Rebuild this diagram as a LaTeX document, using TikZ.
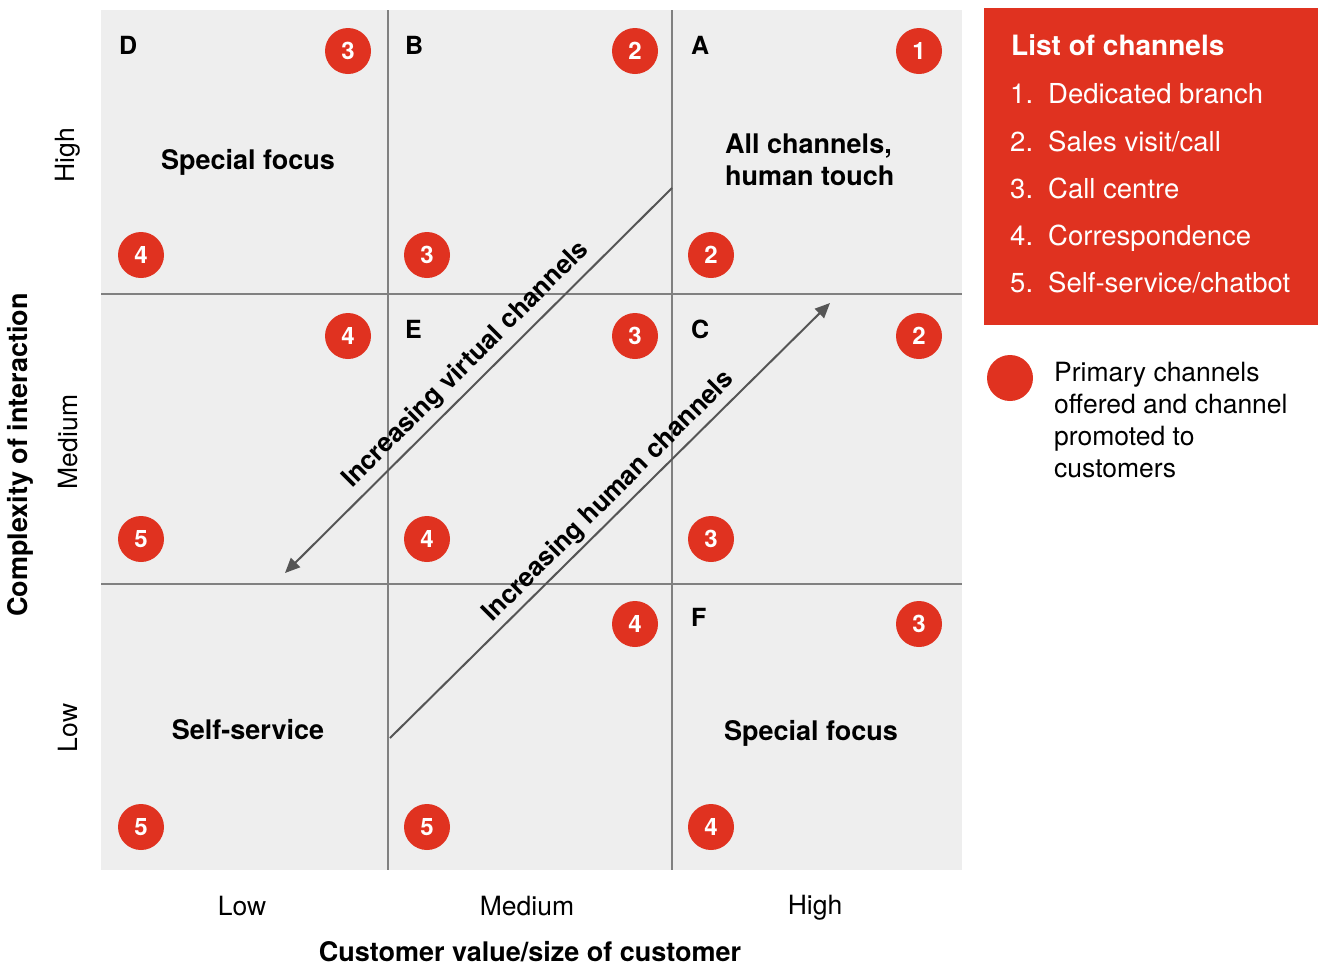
\documentclass[tikz,border=0pt]{standalone}
\usepackage{fontspec}
\setmainfont{TeX Gyre Heros}
\usetikzlibrary{arrows.meta}
\definecolor{pwcred}{HTML}{E03220}
\definecolor{panel}{HTML}{EEEEEE}
\definecolor{gridc}{HTML}{808080}
\definecolor{arrc}{HTML}{555555}
\tikzset{
  badge/.style={circle, fill=pwcred, minimum size=46pt, inner sep=0pt, text=white, font=\fontsize{24}{28}\selectfont\bfseries},
  cellletter/.style={anchor=base west, inner sep=0pt, font=\fontsize{25}{29}\selectfont\bfseries},
  celltext/.style={inner sep=0pt, font=\fontsize{27}{32}\selectfont\bfseries, align=left},
  axislab/.style={inner sep=0pt, font=\fontsize{26.5}{30}\selectfont},
  axistitle/.style={inner sep=0pt, font=\fontsize{27}{30}\selectfont\bfseries},
  gridline/.style={draw=gridc, line width=2pt},
  diagarrow/.style={draw=arrc, line width=2pt, -{Triangle[length=15pt,width=13pt]}},
  diaglab/.style={inner sep=0pt, rotate=45, font=\fontsize{26}{30}\selectfont\bfseries},
  listtext/.style={anchor=base west, inner sep=0pt, text=white, font=\fontsize{27.5}{30}\selectfont},
}
\begin{document}
\begin{tikzpicture}[x=1pt, y=-1pt]
\useasboundingbox (0,0) rectangle (1318,967);
% panel
\fill[panel] (101,10) rectangle (962,870);
\draw[gridline] (388,10) -- (388,870);
\draw[gridline] (672,10) -- (672,870);
\draw[gridline] (101,294) -- (962,294);
\draw[gridline] (101,584) -- (962,584);

% cell letters
\node[cellletter] (lD) at (119,54) {D};
\node[cellletter] (lB) at (405,54) {B};
\node[cellletter] (lA) at (691,54) {A};
\node[cellletter] (lE) at (405,338) {E};
\node[cellletter] (lC) at (691,338) {C};
\node[cellletter] (lF) at (691,626) {F};

% cell texts
\node[celltext] (tD) at (248,162) {Special focus};
\node[celltext, anchor=west] (tA) at (725,160) {All channels,\\human touch};
\node[celltext] (tG) at (248,730) {Self-service};
\node[celltext] (tF) at (811,733) {Special focus};

% badges row 1
\node[badge] (bD1) at (348,51) {3};
\node[badge] (bD2) at (141,255) {4};
\node[badge] (bB1) at (635,51) {2};
\node[badge] (bB2) at (427,255) {3};
\node[badge] (bA1) at (919,51) {1};
\node[badge] (bA2) at (711,255) {2};
% row 2
\node[badge] (bM1) at (348,336) {4};
\node[badge] (bM2) at (141,539) {5};
\node[badge] (bE1) at (635,336) {3};
\node[badge] (bE2) at (427,539) {4};
\node[badge] (bC1) at (919,336) {2};
\node[badge] (bC2) at (711,539) {3};
% row 3
\node[badge] (bG1) at (141,827) {5};
\node[badge] (bH1) at (635,624) {4};
\node[badge] (bH2) at (427,827) {5};
\node[badge] (bF1) at (919,624) {3};
\node[badge] (bF2) at (711,827) {4};

% diagonal arrows
\coordinate (v1) at (672,188);
\coordinate (v2) at (285,573);
\coordinate (h1) at (390,738);
\coordinate (h2) at (830,303);
\draw[diagarrow] (v1) -- (v2);
\draw[diagarrow] (h1) -- (h2);
\node[diaglab] (lv) at (466,365) {Increasing virtual channels};
\node[diaglab] (lh) at (609,497) {Increasing human channels};

% axes
\node[axislab, rotate=90] (yH) at (68,155) {High};
\node[axislab, rotate=90] (yM) at (68,442) {Medium};
\node[axislab, rotate=90] (yL) at (68,728) {Low};
\node[axistitle, rotate=90] (yT) at (20,455) {Complexity of interaction};
\node[axislab] (xL) at (242,906) {Low};
\node[axislab] (xM) at (527,906) {Medium};
\node[axislab] (xH) at (815,908) {High};
\node[axistitle] (xT) at (530,952) {Customer value/size of customer};

% list box
\fill[pwcred] (984,8) rectangle (1318,325);
\node[listtext, font=\fontsize{28}{30}\selectfont\bfseries] (lt) at (1011,55) {List of channels};
\node[listtext] (n1) at (1010,103) {1.};
\node[listtext] (i1) at (1048,103) {Dedicated branch};
\node[listtext] (n2) at (1010,151) {2.};
\node[listtext] (i2) at (1048,151) {Sales visit/call};
\node[listtext] (n3) at (1010,198) {3.};
\node[listtext] (i3) at (1048,198) {Call centre};
\node[listtext] (n4) at (1010,245) {4.};
\node[listtext] (i4) at (1048,245) {Correspondence};
\node[listtext] (n5) at (1010,292) {5.};
\node[listtext] (i5) at (1048,292) {Self-service/chatbot};

% legend
\node[circle, fill=pwcred, minimum size=46pt, inner sep=0pt] (leg) at (1010,378) {};
\node[anchor=north west, inner sep=0pt, align=left, font=\fontsize{26.5}{32}\selectfont] (legt) at (1054,362) {Primary channels\\offered and channel\\promoted to\\customers};
\end{tikzpicture}
\end{document}
